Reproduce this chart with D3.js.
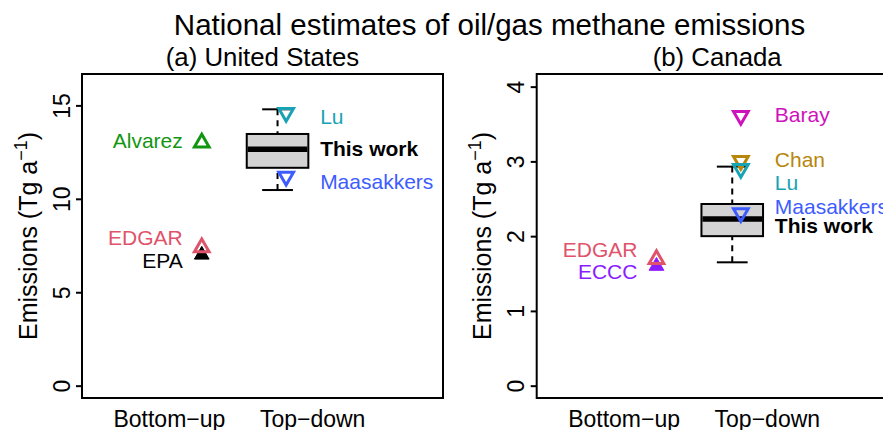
<!DOCTYPE html>
<html>
<head>
<meta charset="utf-8">
<script src="https://cdn.jsdelivr.net/npm/d3@7"></script>
<style>
html,body{margin:0;padding:0;background:#fff;}
svg{display:block;font-family:"Liberation Sans",Arial,Helvetica,sans-serif;}
</style>
</head>
<body>
<svg id="chart" width="883" height="430"></svg>
<script>
// ---------- data ----------
const mainTitle = "National estimates of oil/gas methane emissions";
const panelTitles = ["(a) United States", "(b) Canada"];
const categories = ["Bottom−up", "Top−down"];
const categoryX = [1, 2];
const yTitle = "Emissions (Tg a";

const usTicks = [0, 5, 10, 15];
const caTicks = [0, 1, 2, 3, 4];
const usDomain = [-0.66, 16.68];
const caDomain = [-0.165, 4.169];

// bottom-up estimates (drawn in order)
const usBottomNames  = ["EPA", "EDGAR", "Alvarez"];
const usBottomValues = [7.0, 7.4, 13.0];
const usBottomLabelY = [6.68, 7.93, 13.1];
const usBottomColors = ["#000000", "#DF536B", "#129612"];
const usBottomFilled = [true, false, false];

const usTopNames  = ["Lu", "Maasakkers"];
const usTopValues = [14.6, 11.2];
const usTopLabelY = [14.41, 10.94];
const usTopColors = ["#18A3B5", "#3D5CFF"];

const usBox = [10.47, 11.66, 12.65, 13.47, 14.79]; // lo whisker, q1, median, q3, hi whisker
const usBoxLabelY = 12.69;

const caBottomNames  = ["ECCC", "EDGAR"];
const caBottomValues = [1.6, 1.69];
const caBottomLabelY = [1.53, 1.82];
const caBottomColors = ["#8A1CFF", "#DF536B"];
const caBottomFilled = [true, false];

const caTopNames  = ["Baray", "Chan", "Lu", "Maasakkers"];
const caTopValues = [3.61, 3.01, 2.90, 2.31];
const caTopLabelY = [3.63, 3.03, 2.72, 2.40];
const caTopColors = ["#CD12BC", "#B8860B", "#18A3B5", "#3D5CFF"];

const caBox = [1.65, 2.0, 2.23, 2.43, 2.93];
const caBoxLabelY = 2.14;

// x positions (data units)
const xDomain = [0.39, 2.91];
const bottomX = 1.226;
const boxX = 1.755;
const topX = 1.815;
const boxHalfWidth = 0.215;

// ---------- drawing ----------
const svg = d3.select("#chart");
const panelW = 361, panelH = 324, plotTop = 74;
const panelLeft = [82, 536.7];

svg.append("text").attr("x", 489.5).attr("y", 35).attr("text-anchor", "middle")
  .attr("font-size", 29.5).attr("fill", "#000").text(mainTitle);

function tri(r, up) {
  const h = 0.866 * r;
  return up ? `M0,${-r}L${h},${r/2}L${-h},${r/2}Z` : `M0,${r}L${h},${-r/2}L${-h},${-r/2}Z`;
}

function drawPanel(i, domain, ticks, bNames, bVals, bLab, bCols, bFill, tNames, tVals, tLab, tCols, box, boxLab) {
  const x0 = panelLeft[i];
  const g = svg.append("g");
  const x = d3.scaleLinear().domain(xDomain).range([x0, x0 + panelW]);
  const y = d3.scaleLinear().domain(domain).range([plotTop + panelH, plotTop]);

  // panel title
  g.append("text").attr("x", x0 + panelW / 2).attr("y", 65.7).attr("text-anchor", "middle")
    .attr("font-size", 25.8).text(panelTitles[i]);

  // y axis
  const ax = g.append("g").attr("transform", `translate(${x0},0)`)
    .call(d3.axisLeft(y).tickValues(ticks).tickSize(6).tickFormat(d3.format("d")));
  ax.select(".domain").remove();
  ax.selectAll(".tick line").attr("stroke", "#000").attr("stroke-width", 2);
  ax.selectAll(".tick text").attr("font-size", 23).attr("fill", "#000")
    .attr("text-anchor", "middle").attr("x", null).attr("dy", null)
    .attr("transform", "translate(-12.5,0) rotate(-90)")
    .attr("y", 0);

  // y title
  const yt = g.append("text").attr("transform", `translate(${x0 - 45.5},${plotTop + panelH / 2}) rotate(-90)`)
    .attr("text-anchor", "middle").attr("font-size", 25).attr("fill", "#000");
  yt.append("tspan").text(yTitle);
  yt.append("tspan").attr("font-size", 18).attr("dy", -10).text("−1");
  yt.append("tspan").attr("dy", 10).text(")");

  // category labels
  categories.forEach((c, k) => {
    g.append("text").attr("x", x(categoryX[k])).attr("y", 427).attr("text-anchor", "middle")
      .attr("font-size", 23).attr("fill", "#000").text(c);
  });

  // box plot
  const bx = x(boxX), hw = x(boxX + boxHalfWidth) - bx;
  g.append("line").attr("x1", bx).attr("x2", bx).attr("y1", y(box[0])).attr("y2", y(box[1]))
    .attr("stroke", "#000").attr("stroke-width", 2).attr("stroke-dasharray", "6,5");
  g.append("line").attr("x1", bx).attr("x2", bx).attr("y1", y(box[4])).attr("y2", y(box[3]))
    .attr("stroke", "#000").attr("stroke-width", 2).attr("stroke-dasharray", "6,5");
  [box[0], box[4]].forEach(v => {
    g.append("line").attr("x1", bx - hw / 2).attr("x2", bx + hw / 2).attr("y1", y(v)).attr("y2", y(v))
      .attr("stroke", "#000").attr("stroke-width", 2);
  });
  g.append("rect").attr("x", bx - hw).attr("width", 2 * hw).attr("y", y(box[3]))
    .attr("height", y(box[1]) - y(box[3])).attr("fill", "#D3D3D3").attr("stroke", "#000").attr("stroke-width", 2);
  g.append("line").attr("x1", bx - hw + 1).attr("x2", bx + hw - 1).attr("y1", y(box[2])).attr("y2", y(box[2]))
    .attr("stroke", "#000").attr("stroke-width", 5.5);
  g.append("text").attr("x", x(topX) + 34).attr("y", y(boxLab)).attr("dy", 7.5)
    .attr("font-size", 21).attr("font-weight", "bold").attr("fill", "#000").text("This work");

  // bottom-up points
  bNames.forEach((n, k) => {
    const p = g.append("path").attr("d", tri(8.5, true))
      .attr("transform", `translate(${x(bottomX)},${y(bVals[k])})`);
    if (bFill[k]) p.attr("fill", bCols[k]).attr("stroke", bCols[k]).attr("stroke-width", 1);
    else p.attr("fill", "none").attr("stroke", bCols[k]).attr("stroke-width", 3);
    g.append("text").attr("x", x(bottomX) - 19).attr("y", y(bLab[k])).attr("dy", 7.5)
      .attr("text-anchor", "end").attr("font-size", 21).attr("fill", bCols[k]).text(n);
  });

  // top-down points
  tNames.forEach((n, k) => {
    g.append("path").attr("d", tri(8.5, false))
      .attr("transform", `translate(${x(topX)},${y(tVals[k])})`)
      .attr("fill", "none").attr("stroke", tCols[k]).attr("stroke-width", 3);
    g.append("text").attr("x", x(topX) + 34).attr("y", y(tLab[k])).attr("dy", 7.5)
      .attr("font-size", 21).attr("fill", tCols[k]).text(n);
  });

  // frame
  g.append("rect").attr("x", x0).attr("y", plotTop).attr("width", panelW).attr("height", panelH)
    .attr("fill", "none").attr("stroke", "#000").attr("stroke-width", 2);
}

drawPanel(0, usDomain, usTicks, usBottomNames, usBottomValues, usBottomLabelY, usBottomColors, usBottomFilled,
  usTopNames, usTopValues, usTopLabelY, usTopColors, usBox, usBoxLabelY);
drawPanel(1, caDomain, caTicks, caBottomNames, caBottomValues, caBottomLabelY, caBottomColors, caBottomFilled,
  caTopNames, caTopValues, caTopLabelY, caTopColors, caBox, caBoxLabelY);
</script>
</body>
</html>
